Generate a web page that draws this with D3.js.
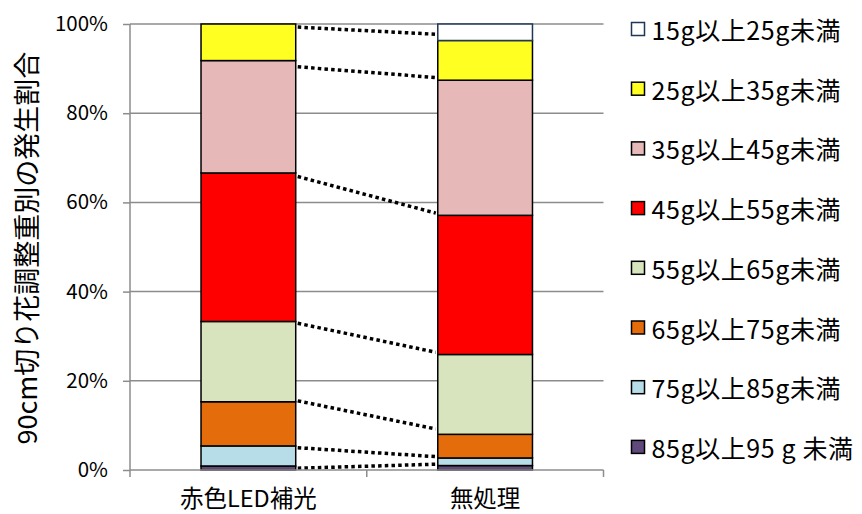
<!DOCTYPE html>
<html>
<head>
<meta charset="utf-8">
<script src="https://cdn.jsdelivr.net/npm/d3@7"></script>
<style>
  html, body { margin: 0; padding: 0; background: #fff; }
  svg { display: block; font-family: "Noto Sans CJK JP", "Noto Sans", sans-serif; }
</style>
</head>
<body>
<svg id="chart" width="862" height="514"></svg>
<script>
// Treatments on the category axis
const categories = ["赤色LED補光", "無処理"];

// Weight classes, stacked from the bottom of each bar upwards
const seriesNames = [
  "85g以上95 g 未満",
  "75g以上85g未満",
  "65g以上75g未満",
  "55g以上65g未満",
  "45g以上55g未満",
  "35g以上45g未満",
  "25g以上35g未満",
  "15g以上25g未満"
];
const seriesColors = ["#604a7b", "#b7dee8", "#e46c0a", "#d7e4bd", "#ff0000", "#e6b9b8", "#ffff21", "#ffffff"];
const seriesStrokes = ["#000", "#000", "#000", "#000", "#000", "#000", "#000", "#1f3656"];

// Share (%) of each weight class, one value per treatment
const share85to95 = [0.9, 1.0];
const share75to85 = [4.5, 1.7];
const share65to75 = [9.9, 5.3];
const share55to65 = [18.0, 17.9];
const share45to55 = [33.3, 31.2];
const share35to45 = [25.2, 30.3];
const share25to35 = [8.2, 8.9];
const share15to25 = [0.0, 3.7];
const seriesValues = [share85to95, share75to85, share65to75, share55to65, share45to55, share35to45, share25to35, share15to25];

// Dotted connector levels (%) between the two bars, left end and right end
const connectorLeft = [99.3, 90.4, 65.8, 32.9, 15.5, 5.0, 0.4];
const connectorRight = [97.7, 88.0, 57.6, 26.4, 9.2, 3.0, 1.3];

const yTicks = [0, 20, 40, 60, 80, 100];

const svg = d3.select("#chart");
const plot = { left: 130, right: 603.5, top: 24, bottom: 470 };

const x = d3.scaleBand().domain(categories).range([plot.left, plot.right]).padding(0);
const y = d3.scaleLinear().domain([0, 100]).range([plot.bottom, plot.top]);
const barW = x.bandwidth() * 0.4;

// Gridlines
svg.append("g")
  .selectAll("line")
  .data(yTicks.filter(d => d > 0))
  .join("line")
  .attr("x1", plot.left).attr("x2", plot.right)
  .attr("y1", d => y(d)).attr("y2", d => y(d))
  .attr("stroke", "#8c8c8c").attr("stroke-width", 1.5);

// Stacked data
const rows = categories.map((c, i) => {
  const r = { category: c };
  seriesNames.forEach((s, k) => { r[s] = seriesValues[k][i]; });
  return r;
});
const stacked = d3.stack().keys(seriesNames)(rows);

// Bars
const layers = svg.append("g")
  .selectAll("g")
  .data(stacked)
  .join("g")
  .attr("fill", (d, k) => seriesColors[k])
  .attr("stroke", (d, k) => seriesStrokes[k])
  .attr("stroke-width", 1.5);

layers.selectAll("rect")
  .data(d => d.filter(p => p[1] - p[0] > 0))
  .join("rect")
  .attr("x", p => x(p.data.category) + (x.bandwidth() - barW) / 2)
  .attr("width", barW)
  .attr("y", p => y(p[1]))
  .attr("height", p => y(p[0]) - y(p[1]));

// Dotted connectors between the bars
const leftEdge = x(categories[0]) + (x.bandwidth() + barW) / 2;
const rightEdge = x(categories[1]) + (x.bandwidth() - barW) / 2;
svg.append("g")
  .selectAll("line")
  .data(d3.zip(connectorLeft, connectorRight))
  .join("line")
  .attr("x1", leftEdge + 2).attr("x2", rightEdge - 2)
  .attr("y1", d => y(d[0])).attr("y2", d => y(d[1]))
  .attr("stroke", "#000").attr("stroke-width", 3.5)
  .attr("stroke-dasharray", "3.5,3.2");

// Y axis
const yAxis = svg.append("g")
  .attr("transform", `translate(${plot.left},0)`)
  .call(d3.axisLeft(y).tickValues(yTicks).tickFormat(d => d + "%").tickSize(7).tickPadding(15));
yAxis.select(".domain").attr("stroke", "#8c8c8c").attr("stroke-width", 1.5)
  .attr("d", `M0,${plot.top}V${plot.bottom + 7}`);
yAxis.selectAll(".tick line").attr("stroke", "#8c8c8c").attr("stroke-width", 1.5);
yAxis.selectAll(".tick text").attr("font-size", 20.5).attr("fill", "#000")
  .attr("font-family", "'Noto Sans CJK JP', sans-serif");

// X axis
const xAxis = svg.append("g")
  .attr("transform", `translate(0,${plot.bottom})`)
  .call(d3.axisBottom(x).tickSize(0).tickPadding(20));
xAxis.select(".domain").attr("stroke", "#8c8c8c").attr("stroke-width", 1.5)
  .attr("d", `M${plot.left},0H${plot.right}`);
xAxis.selectAll(".tick text").attr("font-size", 23.5).attr("fill", "#000")
  .attr("font-family", "'Noto Sans CJK JP', sans-serif");
// Category boundary tick marks
svg.append("g")
  .selectAll("line")
  .data(categories.slice(1).concat(["__end"]))
  .join("line")
  .attr("x1", (d, i) => i < categories.length - 1 ? x(categories[i + 1]) : plot.right)
  .attr("x2", (d, i) => i < categories.length - 1 ? x(categories[i + 1]) : plot.right)
  .attr("y1", plot.bottom).attr("y2", plot.bottom + 7)
  .attr("stroke", "#8c8c8c").attr("stroke-width", 1.5);

// Y axis title
svg.append("text")
  .attr("transform", "translate(25,248) rotate(-90)")
  .attr("text-anchor", "middle")
  .attr("dominant-baseline", "central")
  .attr("font-size", 27)
  .attr("fill", "#000")
  .text("90cm切り花調整重別の発生割合");

// Legend (top class first)
const legendOrder = d3.range(seriesNames.length).reverse();
const legend = svg.append("g")
  .selectAll("g")
  .data(legendOrder)
  .join("g")
  .attr("transform", (k, i) => `translate(631.5,${29 + i * 59.7})`);
legend.append("rect")
  .attr("x", 0).attr("y", -6.5).attr("width", 13).attr("height", 13)
  .attr("fill", k => seriesColors[k])
  .attr("stroke", k => seriesStrokes[k])
  .attr("stroke-width", 1.5);
legend.append("text")
  .attr("x", 20).attr("y", 0)
  .attr("dominant-baseline", "central")
  .attr("font-size", 25)
  .attr("letter-spacing", 0.6)
  .attr("fill", "#000")
  .text(k => seriesNames[k]);
</script>
</body>
</html>
